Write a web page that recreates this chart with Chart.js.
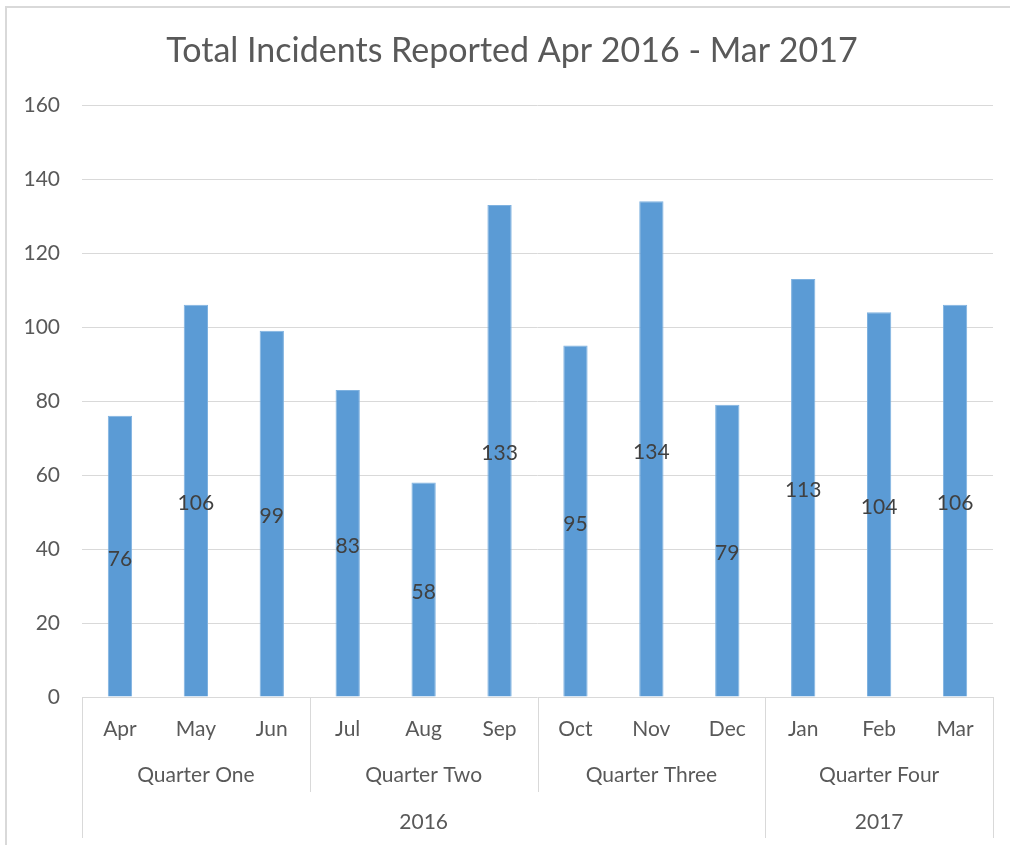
<!DOCTYPE html>
<html>
<head>
<meta charset="utf-8">
<script src="https://cdn.jsdelivr.net/npm/chart.js@4.4.0/dist/chart.umd.min.js"></script>
<style>
  html, body { margin: 0; padding: 0; background: #fff; }
  #wrap { width: 1010px; height: 845px; position: relative; }
</style>
</head>
<body>
<div id="wrap"><canvas id="chart"></canvas></div>
<script>
var months = ['Apr', 'May', 'Jun', 'Jul', 'Aug', 'Sep', 'Oct', 'Nov', 'Dec', 'Jan', 'Feb', 'Mar'];
var incidents = [76, 106, 99, 83, 58, 133, 95, 134, 79, 113, 104, 106];

// second and third level of the category axis: label + how many months it covers
var quarters = ['Quarter One', 'Quarter Two', 'Quarter Three', 'Quarter Four'];
var quarterSpan = [3, 3, 3, 3];
var years = ['2016', '2017'];
var yearSpan = [9, 3];

var yTicks = [0, 20, 40, 60, 80, 100, 120, 140, 160];

var FONT = 'Lato, "Open Sans", sans-serif';
var TEXT = '#595959';
var GRID = '#d9d9d9';

// title sits centred on the whole frame, not on the padded box
var titleShift = {
    id: 'titleShift',
    afterLayout: function(chart) {
        if (chart.titleBlock) chart.titleBlock.left = 31;
    }
};

// draws the bar value in the middle of each bar
var barLabels = {
    id: 'barLabels',
    afterDatasetsDraw: function(chart) {
        var ctx = chart.ctx;
        var meta = chart.getDatasetMeta(0);
        ctx.save();
        ctx.font = '21px ' + FONT;
        ctx.fillStyle = '#404040';
        ctx.textAlign = 'center';
        ctx.textBaseline = 'middle';
        meta.data.forEach(function(bar, i) {
            var mid = (bar.y + bar.base) / 2;
            ctx.fillText(incidents[i], bar.x, mid + 3);
        });
        ctx.restore();
    }
};

// quarter / year rows under the month labels, plus the separators
var groupAxis = {
    id: 'groupAxis',
    afterDraw: function(chart) {
        var ctx = chart.ctx;
        var x = chart.scales.x;
        var area = chart.chartArea;
        var bottom = area.bottom;

        function edge(i) {
            if (i <= 0) return area.left;
            if (i >= months.length) return area.right;
            return (x.getPixelForValue(i - 1) + x.getPixelForValue(i)) / 2;
        }

        function row(labels, spans, textY) {
            var start = 0;
            ctx.fillStyle = TEXT;
            ctx.font = '21px ' + FONT;
            ctx.textAlign = 'center';
            ctx.textBaseline = 'middle';
            labels.forEach(function(lab, k) {
                var end = start + spans[k];
                ctx.fillText(lab, (edge(start) + edge(end)) / 2, textY);
                start = end;
            });
        }

        function lines(spans, lineEnd) {
            var start = 0;
            ctx.strokeStyle = GRID;
            ctx.lineWidth = 1;
            spans.forEach(function(s) {
                start += s;
                var px = Math.round(edge(start)) + 0.5;
                ctx.beginPath();
                ctx.moveTo(px, bottom);
                ctx.lineTo(px, lineEnd);
                ctx.stroke();
            });
        }

        ctx.save();
        row(quarters, quarterSpan, bottom + 78);
        row(years, yearSpan, bottom + 125);
        lines(quarterSpan, bottom + 95);
        lines(yearSpan, bottom + 141);
        var lx = Math.round(area.left) + 0.5;
        ctx.beginPath();
        ctx.moveTo(lx, bottom);
        ctx.lineTo(lx, bottom + 141);
        ctx.stroke();

        // chart frame
        ctx.strokeStyle = '#d9d9d9';
        ctx.lineWidth = 2;
        ctx.beginPath();
        ctx.moveTo(6, chart.height + 2);
        ctx.lineTo(6, 7);
        ctx.lineTo(chart.width + 2, 7);
        ctx.stroke();
        ctx.restore();
    }
};

new Chart(document.getElementById('chart'), {
    type: 'bar',
    data: {
        labels: months,
        datasets: [{
            data: incidents,
            backgroundColor: '#5b9bd5',
            borderColor: '#7fb2e0',
            borderWidth: 1,
            categoryPercentage: 1,
            barPercentage: 0.32
        }]
    },
    options: {
        responsive: true,
        maintainAspectRatio: false,
        animation: false,
        layout: { padding: { left: 0, right: 17, top: 0, bottom: 0 } },
        plugins: {
            legend: { display: false },
            tooltip: { enabled: false },
            title: {
                display: true,
                text: 'Total Incidents Reported Apr 2016 - Mar 2017',
                color: TEXT,
                font: { family: FONT, size: 34, weight: 'normal' },
                padding: { top: 31, bottom: 33.2 }
            }
        },
        scales: {
            x: {
                grid: { display: false, drawTicks: false },
                border: { display: false },
                ticks: {
                    color: TEXT,
                    font: { family: FONT, size: 21 },
                    padding: 20,
                    maxRotation: 0
                },
                afterFit: function(scale) { scale.height = 148; }
            },
            y: {
                min: 0,
                max: 160,
                afterBuildTicks: function(scale) {
                    scale.ticks = yTicks.map(function(v) { return { value: v }; });
                },
                grid: { color: GRID, drawTicks: false },
                border: { display: false },
                ticks: {
                    color: TEXT,
                    font: { family: FONT, size: 21 },
                    padding: 22
                },
                afterFit: function(scale) { scale.width = 82; }
            }
        }
    },
    plugins: [titleShift, barLabels, groupAxis]
});
</script>
</body>
</html>
